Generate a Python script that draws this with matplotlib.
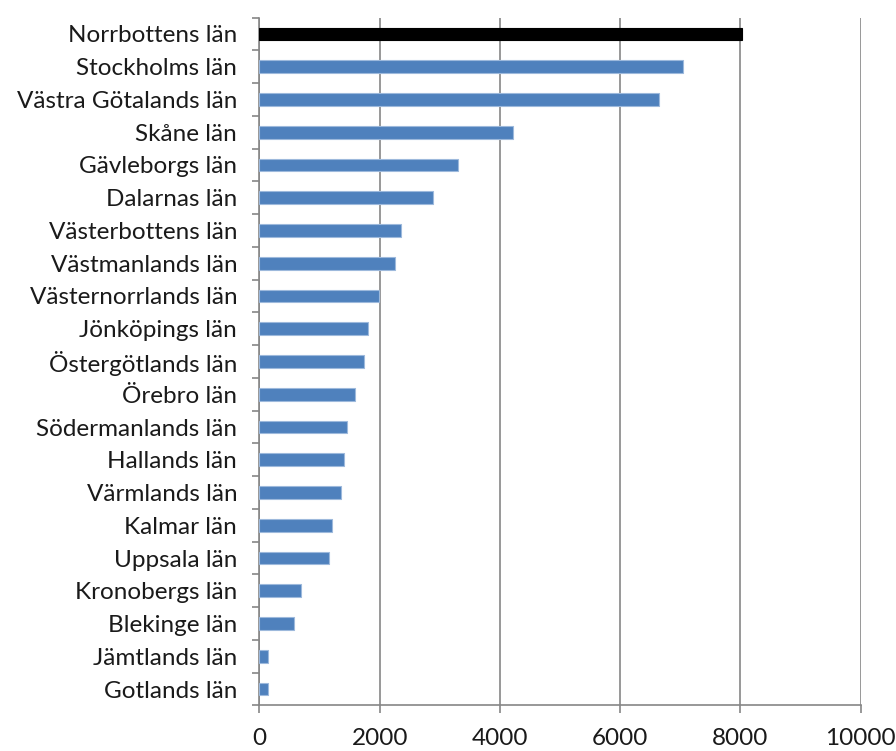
import matplotlib
matplotlib.use("Agg")
import matplotlib.pyplot as plt
import numpy as np

categories = ["Norrbottens län", "Stockholms län", "Västra Götalands län", "Skåne län",
              "Gävleborgs län", "Dalarnas län", "Västerbottens län", "Västmanlands län",
              "Västernorrlands län", "Jönköpings län", "Östergötlands län", "Örebro län",
              "Södermanlands län", "Hallands län", "Värmlands län", "Kalmar län",
              "Uppsala län", "Kronobergs län", "Blekinge län", "Jämtlands län", "Gotlands län"]
values = [8030, 7050, 6650, 4220, 3300, 2890, 2360, 2250, 1990, 1800, 1740, 1590,
          1460, 1400, 1350, 1200, 1160, 690, 570, 135, 135]
highlight = "Norrbottens län"
xticks = [0, 2000, 4000, 6000, 8000, 10000]

plt.rcParams['font.family'] = ['Lato', 'DejaVu Sans']

fig = plt.figure(figsize=(8.96, 7.51), dpi=100)
ax = fig.add_axes([0.2895, 0.0607, 0.671, 0.9159])

n = len(categories)
y = np.arange(n)
colors = ['#000000' if c == highlight else '#4F81BD' for c in categories]
edges = ['#000000' if c == highlight else '#9DB9DC' for c in categories]
ax.barh(y, values, height=0.39, color=colors, edgecolor=edges, linewidth=0.8, zorder=3)

ax.set_ylim(n - 0.5, -0.5)
ax.set_xlim(0, 10000)
ax.set_xticks(xticks)
ax.set_xticklabels([str(t) for t in xticks], fontsize=17.5, color='#1a1a1a')
ax.set_yticks(y)
ax.set_yticklabels(categories, fontsize=17.5, color='#1a1a1a')
ax.tick_params(axis='y', which='major', length=0, pad=16)
ax.set_yticks(np.arange(-0.5, n, 1.0), minor=True)
ax.tick_params(axis='y', which='minor', length=5, color='#868686', width=1.2, direction='out')
ax.tick_params(axis='x', which='major', length=6, color='#868686', width=1.2, direction='out', pad=10)

ax.grid(axis='x', color='#868686', linewidth=1.2, zorder=0)
for s in ['top', 'right']:
    ax.spines[s].set_visible(False)
for s in ['left', 'bottom']:
    ax.spines[s].set_color('#868686')
    ax.spines[s].set_linewidth(1.2)

fig.savefig("out.png", dpi=100)
